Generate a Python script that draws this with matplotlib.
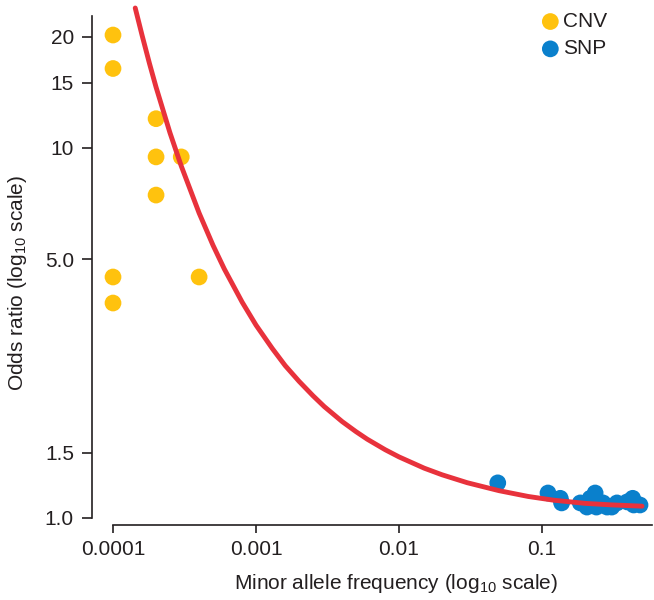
import matplotlib
matplotlib.use('Agg')
import matplotlib.pyplot as plt

plt.rcParams['font.family'] = ['Liberation Sans', 'DejaVu Sans']
plt.rcParams['mathtext.default'] = 'regular'

# CNV points
cnv_maf = [0.0001, 0.0001, 0.0002, 0.0002, 0.0003, 0.0002, 0.0001, 0.0001, 0.0004]
cnv_or = [20.2, 16.4, 12.0, 9.46, 9.46, 7.46, 4.48, 3.81, 4.48]

# SNP points
snp_maf = [0.049, 0.110, 0.134, 0.137, 0.185, 0.206, 0.217, 0.235, 0.24,
           0.267, 0.285, 0.307, 0.334, 0.393, 0.43, 0.437, 0.484]
snp_or = [1.244, 1.168, 1.13, 1.098, 1.098, 1.07, 1.13, 1.168, 1.07,
          1.098, 1.07, 1.07, 1.098, 1.105, 1.13, 1.084, 1.084]

# fitted curve
curve_maf = [0.000143, 0.00016, 0.00018, 0.0002, 0.00025, 0.0003, 0.0004, 0.0005,
             0.0006, 0.0008, 0.001, 0.0013, 0.0016, 0.002, 0.0025, 0.003, 0.004,
             0.005, 0.006, 0.008, 0.01, 0.015, 0.02, 0.03, 0.05, 0.08, 0.12, 0.2,
             0.3, 0.5]
curve_or = [23.9, 20.1, 16.9, 14.6, 11.0, 8.94, 6.67, 5.46, 4.71, 3.83, 3.32, 2.87,
            2.58, 2.34, 2.14, 2.00, 1.822, 1.711, 1.632, 1.529, 1.462, 1.363, 1.308,
            1.245, 1.185, 1.143, 1.117, 1.095, 1.085, 1.076]

xticks = [0.0001, 0.001, 0.01, 0.1]
xticklabels = ['0.0001', '0.001', '0.01', '0.1']
yticks = [1.0, 1.5, 5.0, 10, 15, 20]
yticklabels = ['1.0', '1.5', '5.0', '10', '15', '20']

W, H = 654, 600
fig = plt.figure(figsize=(W / 100, H / 100), dpi=100)
ax = fig.add_axes([92 / W, 75 / H, (652 - 92) / W, (525 - 5) / H])

txt = '#231f20'
ax.scatter(cnv_maf, cnv_or, s=145, color='#FFC20E', edgecolors='none', label='CNV', zorder=2)
ax.scatter(snp_maf, snp_or, s=145, color='#0A80CC', edgecolors='none', label='SNP', zorder=2)
ax.plot(curve_maf, curve_or, color='#E8323C', lw=3.5, solid_capstyle='round', zorder=3)

ax.set_xscale('log')
ax.set_yscale('log')
ax.set_xlim(7.13e-5, 0.587)
ax.set_ylim(0.957, 24.35)

ax.set_xticks(xticks)
ax.set_xticklabels(xticklabels)
ax.set_yticks(yticks)
ax.set_yticklabels(yticklabels)
ax.minorticks_off()
ax.tick_params(width=1.2, color=txt, labelsize=15, labelcolor=txt)
ax.tick_params(axis='x', length=6, pad=5)
ax.tick_params(axis='y', length=7, pad=6)

for s in ['top', 'right']:
    ax.spines[s].set_visible(False)
ax.spines['left'].set_bounds(1.0, 22.8)
ax.spines['bottom'].set_bounds(0.0001, 0.587)
for s in ['left', 'bottom']:
    ax.spines[s].set_linewidth(1.2)
    ax.spines[s].set_color(txt)

ax.set_xlabel('Minor allele frequency (log$_{10}$ scale)', fontsize=15, color=txt)
ax.set_ylabel('Odds ratio (log$_{10}$ scale)', fontsize=15, color=txt)
ax.xaxis.set_label_coords((396 - 92) / (652 - 92), -(572 - 525) / (525 - 5))
ax.yaxis.set_label_coords(-(92 - 29) / (652 - 92), (525 - 283) / (525 - 5))

ax.legend(loc='upper left', bbox_to_anchor=((542 - 92) / (652 - 92), (525 - 12) / (525 - 5)),
          frameon=False, fontsize=15, handlelength=0.8, handletextpad=0.23,
          labelspacing=0.4, borderpad=0, borderaxespad=0, labelcolor=txt)

fig.savefig('out.png', dpi=100)
